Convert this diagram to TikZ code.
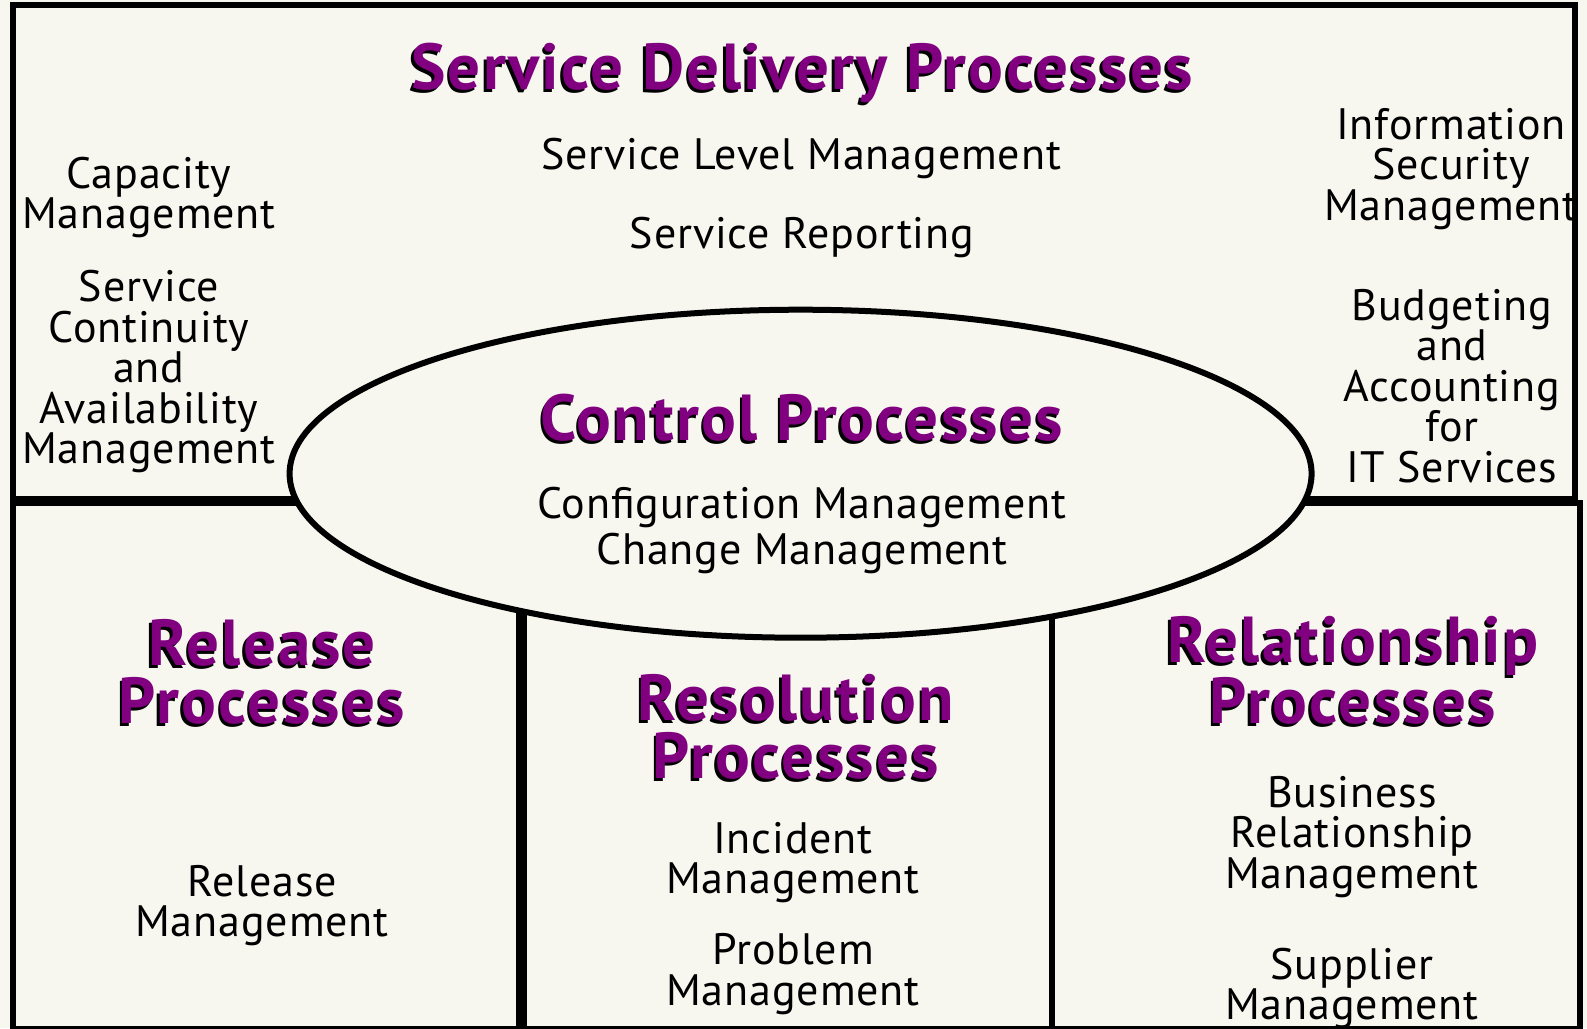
\documentclass[tikz,border=0pt]{standalone}
\usepackage{fontspec}
\setmainfont{PT Sans}
\newfontfamily\bodyfont[LetterSpace=2]{PT Sans}
\newfontfamily\headfont[LetterSpace=3.5]{PT Sans}
\definecolor{bg}{RGB}{247,247,240}
\definecolor{purp}{RGB}{128,0,128}
\newcommand\shadowhead[3]{%
  \node[headshadow] (#1s) at (#2) {#3};
  \node[headtext] (#1) at (#2) {#3};}
\begin{document}
\begin{tikzpicture}[x=1pt,y=-1pt,
  box/.style={draw=black,line width=6pt},
  body/.style={font=\bodyfont\fontsize{44}{40.5}\selectfont,align=center,inner sep=0pt,anchor=base},
  headtext/.style={font=\headfont\bfseries\fontsize{65}{58}\selectfont,text=purp,align=center,inner sep=0pt,anchor=base},
  headshadow/.style={headtext,text=black,xshift=-2.5pt,yshift=-3pt}]
\useasboundingbox (0,0) rectangle (1587,1028);
\fill[bg] (0,0) rectangle (1587,1028);
% boxes
\draw[box] (12.5,4.5) rectangle (1574.5,499);
\draw[box] (12.5,503) rectangle (518.5,1029);
\draw[box] (1052,503) rectangle (1579.5,1029);
\draw[box] (524,600) rectangle (1052,1029);
% ellipse
\draw[line width=6pt,fill=bg] (800.6,473.7) ellipse [x radius=511, y radius=164];
% service delivery
\shadowhead{sdh}{802,89}{Service Delivery Processes}
\node[body] (slm) at (801,169) {Service Level Management};
\node[body] (sr) at (802,248) {Service Reporting};
\node[body] (cap) at (149,228.5) {Capacity\\Management};
\node[body] (scam) at (149,463.6) {Service\\Continuity\\and\\Availability\\Management};
\node[body] (ism) at (1451,220) {Information\\Security\\Management};
\node[body] (bud) at (1452,482) {Budgeting\\and\\Accounting\\for\\IT Services};
% control
\shadowhead{ctl}{802,440}{Control Processes}
\node[body,font=\bodyfont\fontsize{44}{46}\selectfont] (cfg) at (802,564) {Configuration Management\\Change Management};
% release
\shadowhead{rel}{262,723}{Release\\Processes}
\node[body] (relm) at (262,936.5) {Release\\Management};
% resolution
\shadowhead{res}{796,778}{Resolution\\Processes}
\node[body] (inc) at (793,893.5) {Incident\\Management};
\node[body] (prb) at (793,1005) {Problem\\Management};
% relationship
\shadowhead{rsh}{1353,723}{Relationship\\Processes}
\node[body] (brm) at (1352,888) {Business\\Relationship\\Management};
\node[body] (sup) at (1352,1019.5) {Supplier\\Management};
\end{tikzpicture}
\end{document}
